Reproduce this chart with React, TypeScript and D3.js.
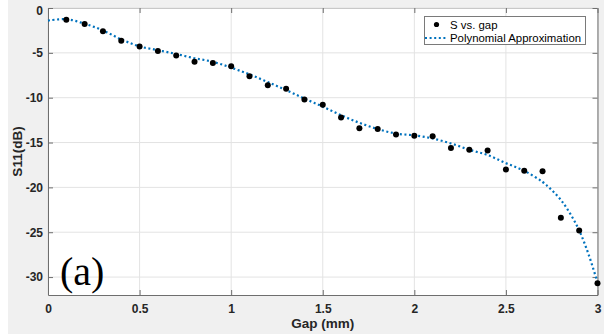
import { useEffect, useRef } from "react";
import * as d3 from "d3";

// measured points (gap in mm, S11 in dB)
const gapValues = [0.1, 0.2, 0.3, 0.4, 0.5, 0.6, 0.7, 0.8, 0.9, 1.0, 1.1, 1.2, 1.3, 1.4, 1.5, 1.6, 1.7, 1.8, 1.9, 2.0, 2.1, 2.2, 2.3, 2.4, 2.5, 2.6, 2.7, 2.8, 2.9, 3.0];
const s11Values = [-1.3, -1.79, -2.6, -3.65, -4.3, -4.8, -5.3, -6.0, -6.14, -6.5, -7.6, -8.6, -9.0, -10.2, -10.8, -12.2, -13.4, -13.5, -14.1, -14.25, -14.3, -15.6, -15.8, -15.9, -18.0, -18.15, -18.2, -23.4, -24.8, -30.7];

// polynomial fit curve
const fitGap = [0, 0.1, 0.2, 0.3, 0.4, 0.5, 0.6, 0.7, 0.8, 0.9, 1.0, 1.1, 1.2, 1.3, 1.4, 1.5, 1.6, 1.7, 1.8, 1.9, 2.0, 2.1, 2.2, 2.3, 2.4, 2.5, 2.6, 2.7, 2.75, 2.8, 2.85, 2.9, 2.95, 3.0];
const fitS11 = [-1.4, -1.25, -1.75, -2.5, -3.5, -4.28, -4.7, -5.13, -5.6, -6.0, -6.65, -7.4, -8.26, -9.15, -10.1, -11.0, -11.95, -12.8, -13.5, -14.0, -14.2, -14.55, -15.1, -15.8, -16.4, -17.3, -18.15, -19.4, -20.3, -21.4, -22.9, -24.8, -27.4, -30.6];

const xTicks = [0, 0.5, 1, 1.5, 2, 2.5, 3];
const yTicks = [0, -5, -10, -15, -20, -25, -30];

export default function App() {
  const ref = useRef<SVGSVGElement>(null);

  useEffect(() => {
    const width = 604;
    const height = 335;
    const left = 48, right = 597.5, top = 8, bottom = 295;
    const axisColor = "#6e6e6e";
    const font = "Liberation Sans, Arial, sans-serif";

    const svg = d3.select(ref.current).attr("width", width).attr("height", height);
    svg.selectAll("*").remove();

    // figure background
    svg.append("rect").attr("x", 8).attr("y", 0).attr("width", width - 8).attr("height", 334).attr("fill", "#f0f0f0");

    const x = d3.scaleLinear().domain([0, 3]).range([left, right]);
    const y = d3.scaleLinear().domain([-32, 0]).range([bottom, top]);

    svg.append("rect")
      .attr("x", left).attr("y", top)
      .attr("width", right - left).attr("height", bottom - top)
      .attr("fill", "#fff");

    // grid
    const grid = svg.append("g").attr("stroke", "#e3e3e3").attr("stroke-width", 1);
    xTicks.forEach((t) => {
      grid.append("line").attr("x1", x(t)).attr("x2", x(t)).attr("y1", top).attr("y2", bottom);
    });
    yTicks.forEach((t) => {
      grid.append("line").attr("x1", left).attr("x2", right).attr("y1", y(t)).attr("y2", y(t));
    });

    // axes with inward ticks
    const xAxis = d3.axisBottom(x).tickValues(xTicks).tickSizeInner(-5).tickSizeOuter(0).tickPadding(9).tickFormat((d) => String(d));
    const gx = svg.append("g").attr("transform", `translate(0,${bottom})`).call(xAxis);
    const xTop = d3.axisTop(x).tickValues(xTicks).tickSizeInner(-5).tickSizeOuter(0).tickFormat(() => "");
    const gxt = svg.append("g").attr("transform", `translate(0,${top})`).call(xTop);

    const yAxis = d3.axisLeft(y).tickValues(yTicks).tickSizeInner(-5).tickSizeOuter(0).tickPadding(5).tickFormat((d) => String(d));
    const gy = svg.append("g").attr("transform", `translate(${left},0)`).call(yAxis);
    const yRight = d3.axisRight(y).tickValues(yTicks).tickSizeInner(-5).tickSizeOuter(0).tickFormat(() => "");
    const gyr = svg.append("g").attr("transform", `translate(${right},0)`).call(yRight);

    [gx, gxt, gy, gyr].forEach((g) => {
      g.select(".domain").attr("stroke", axisColor);
      g.selectAll(".tick line").attr("stroke", axisColor);
      g.selectAll(".tick text")
        .attr("fill", "#262626")
        .style("font-family", font)
        .style("font-size", "12px")
        .style("font-weight", "bold");
    });
    gxt.select(".domain").attr("stroke", "#c8c8c8");
    gy.selectAll(".tick text").filter((d) => d === 0).attr("dy", "0.55em");

    // fit curve
    const fitData = fitGap.map((g, i) => ({ g, s: fitS11[i] }));
    const line = d3.line<{ g: number; s: number }>()
      .x((d) => x(d.g))
      .y((d) => y(d.s))
      .curve(d3.curveCatmullRom.alpha(0.5));
    svg.append("path")
      .datum(fitData)
      .attr("d", line)
      .attr("fill", "none")
      .attr("stroke", "#0072BD")
      .attr("stroke-width", 2.2)
      .attr("stroke-dasharray", "2 2.6");

    // measured points
    svg.append("g")
      .selectAll("circle")
      .data(gapValues.map((g, i) => ({ g, s: s11Values[i] })))
      .enter()
      .append("circle")
      .attr("cx", (d) => x(d.g))
      .attr("cy", (d) => y(d.s))
      .attr("r", 3)
      .attr("fill", "#000");

    // axis labels
    svg.append("text")
      .attr("x", (left + right) / 2)
      .attr("y", 328)
      .attr("text-anchor", "middle")
      .style("font-family", font)
      .style("font-size", "13.5px")
      .style("font-weight", "bold")
      .attr("fill", "#262626")
      .text("Gap (mm)");

    svg.append("text")
      .attr("transform", `translate(22,${(top + bottom) / 2}) rotate(-90)`)
      .attr("text-anchor", "middle")
      .style("font-family", font)
      .style("font-size", "13.5px")
      .style("font-weight", "bold")
      .attr("fill", "#262626")
      .text("S11(dB)");

    // legend
    const lg = svg.append("g");
    lg.append("rect")
      .attr("x", 424.5).attr("y", 16.5)
      .attr("width", 161).attr("height", 28)
      .attr("fill", "#fff")
      .attr("stroke", "#7a7a7a")
      .attr("stroke-width", 1);
    lg.append("circle").attr("cx", 436.5).attr("cy", 24.5).attr("r", 2.6).attr("fill", "#000");
    lg.append("line")
      .attr("x1", 425).attr("x2", 448).attr("y1", 38).attr("y2", 38)
      .attr("stroke", "#0072BD").attr("stroke-width", 2.2).attr("stroke-dasharray", "2 2.6");
    lg.append("text").attr("x", 450).attr("y", 29).style("font-family", font).style("font-size", "11.4px").attr("fill", "#000").text("S vs. gap");
    lg.append("text").attr("x", 450).attr("y", 42).style("font-family", font).style("font-size", "11.4px").attr("fill", "#000").text("Polynomial Approximation");

    // panel tag
    svg.append("text")
      .attr("x", 60)
      .attr("y", 285)
      .style("font-family", "Liberation Serif, Times New Roman, serif")
      .style("font-size", "40px")
      .attr("fill", "#000")
      .text("(a)");
  }, []);

  return <svg ref={ref} style={{ position: "absolute", left: 0, top: 0, display: "block" }} />;
}
